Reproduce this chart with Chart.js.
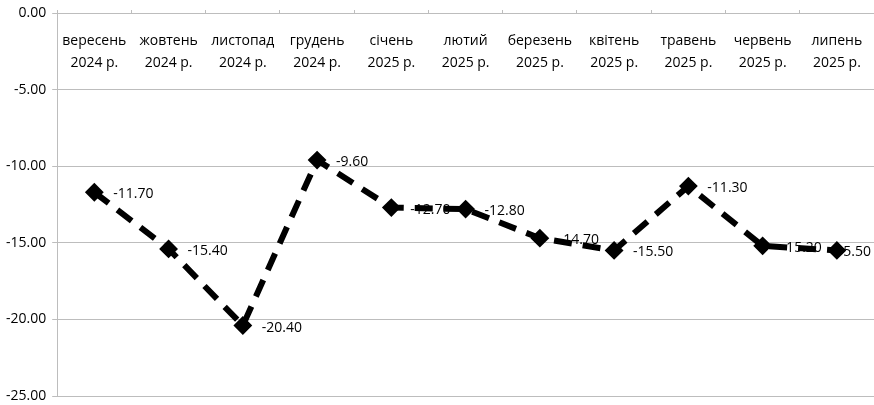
<!DOCTYPE html>
<html>
<head>
<meta charset="utf-8">
<script src="https://cdn.jsdelivr.net/npm/chart.js@4/dist/chart.umd.min.js"></script>
<style>
  html, body { margin: 0; padding: 0; background: #fff; }
  #wrap { position: relative; width: 874px; height: 405px; }
</style>
</head>
<body>
<div id="wrap"><canvas id="chart"></canvas></div>
<script>
// months along the top axis (two lines each)
const months = ['вересень', 'жовтень', 'листопад', 'грудень', 'січень', 'лютий',
  'березень', 'квітень', 'травень', 'червень', 'липень'];
const years = ['2024 р.', '2024 р.', '2024 р.', '2024 р.', '2025 р.', '2025 р.',
  '2025 р.', '2025 р.', '2025 р.', '2025 р.', '2025 р.'];
const values = [-11.7, -15.4, -20.4, -9.6, -12.7, -12.8, -14.7, -15.5, -11.3, -15.2, -15.5];

const FONT = "'Open Sans', sans-serif";
const GRID = '#bdbdbd';

// value labels to the right of each marker, drawn under the line like the original
const valueLabels = {
  id: 'valueLabels',
  beforeDatasetsDraw(chart) {
    const ctx = chart.ctx;
    const meta = chart.getDatasetMeta(0);
    ctx.save();
    ctx.font = '14px ' + FONT;
    ctx.fillStyle = '#000';
    ctx.textAlign = 'left';
    ctx.textBaseline = 'middle';
    meta.data.forEach((pt, i) => {
      const txt = values[i].toFixed(2);
      const w = ctx.measureText(txt).width;
      // keep the label inside the canvas (Excel pulls the last one in)
      const x = Math.min(pt.x + 19, chart.width - w - 3);
      ctx.fillText(txt, x, pt.y + 2);
    });
    ctx.restore();
  }
};

// drop the automatic edge padding so the plot reaches the right edge
const noEdgePad = s => {
  s.paddingTop = 0; s.paddingBottom = 0;
  s.paddingLeft = 0; s.paddingRight = 0;
};

new Chart(document.getElementById('chart'), {
  type: 'line',
  data: {
    labels: months.map((m, i) => [m, years[i]]),
    datasets: [{
      data: values,
      borderColor: '#000',
      borderWidth: 6,
      borderDash: [18, 11],
      borderCapStyle: 'butt',
      pointStyle: 'rectRot',
      pointRadius: 8,
      pointBackgroundColor: '#000',
      pointBorderColor: '#000',
      pointBorderWidth: 2,
      tension: 0,
      fill: false
    }]
  },
  options: {
    responsive: true,
    maintainAspectRatio: false,
    animation: false,
    layout: { autoPadding: false, padding: { top: 13, right: 0, bottom: 9, left: 0 } },
    plugins: {
      legend: { display: false },
      tooltip: { enabled: false }
    },
    scales: {
      x: {
        type: 'category',
        position: { y: 0 },
        offset: true,
        afterFit: noEdgePad,
        grid: {
          offset: true,
          drawOnChartArea: false,
          tickLength: -4,
          color: GRID
        },
        border: { display: true, color: GRID },
        ticks: {
          autoSkip: false,
          maxRotation: 0,
          minRotation: 0,
          padding: 21,
          color: '#000',
          font: { family: FONT, size: 14, lineHeight: 1.57 }
        }
      },
      y: {
        min: -25,
        max: 0,
        afterFit: noEdgePad,
        grid: { color: GRID, tickLength: 5 },
        border: { display: true, color: GRID },
        ticks: {
          stepSize: 5,
          padding: 6,
          color: '#000',
          font: { family: FONT, size: 14 },
          callback: v => Number(v).toFixed(2)
        }
      }
    }
  },
  plugins: [valueLabels]
});
</script>
</body>
</html>
